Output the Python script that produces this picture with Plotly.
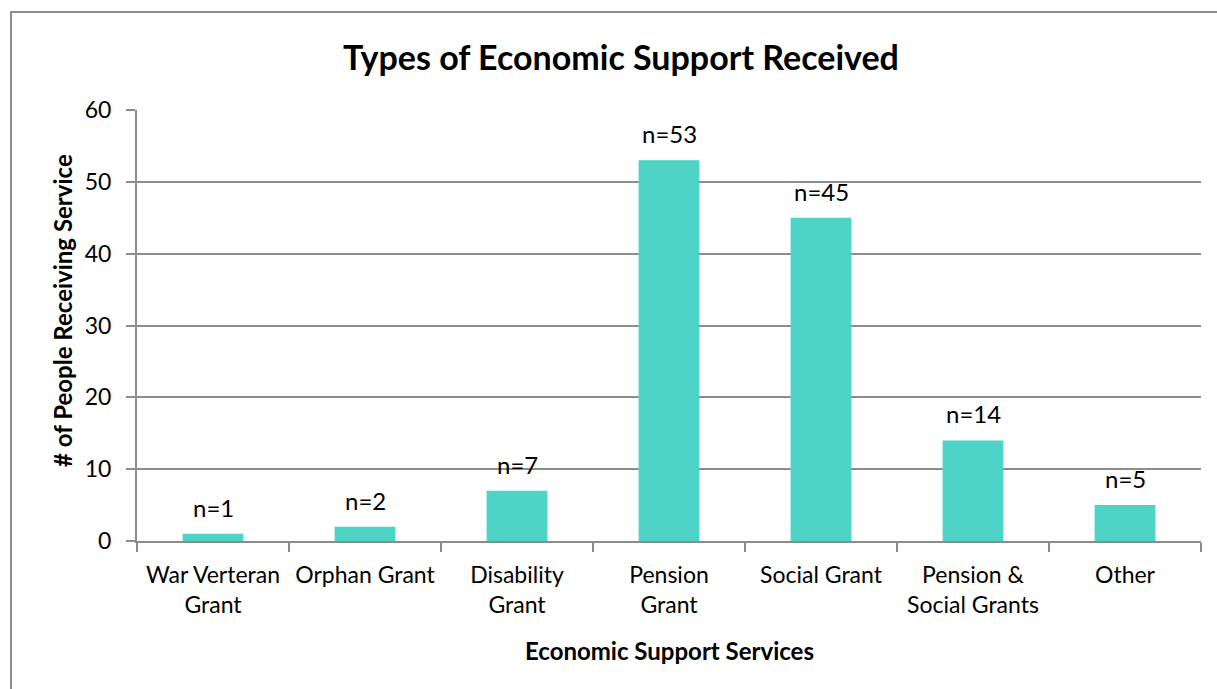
import plotly.graph_objects as go

categories = ["War Verteran<br>Grant", "Orphan Grant", "Disability<br>Grant", "Pension<br>Grant",
              "Social Grant", "Pension &<br>Social Grants", "Other"]
values = [1, 2, 7, 53, 45, 14, 5]
labels = ["n=1", "n=2", "n=7", "n=53", "n=45", "n=14", "n=5"]

FONT = "Lato"
GRAY = "#8c8c8c"

fig = go.Figure()
fig.add_trace(go.Bar(x=categories, y=values, marker=dict(color="#4dd4c6", line=dict(width=0)),
                     width=0.4, showlegend=False))

for c, v, t in zip(categories, values, labels):
    fig.add_annotation(x=c, y=v, text=t, showarrow=False, yanchor="bottom", yshift=10,
                       font=dict(family=FONT, size=24, color="#000"))

# axis titles
fig.add_annotation(xref="paper", yref="paper", x=0.5, y=(541 - 650) / 431, xanchor="center",
                   yanchor="middle", showarrow=False, text="<b>Economic Support Services</b>",
                   font=dict(family=FONT, size=24, color="#000"))
fig.add_annotation(xref="paper", yref="paper", x=(62 - 137) / 1064, y=(541 - 311) / 431,
                   xanchor="center", yanchor="middle", showarrow=False, textangle=-90,
                   text="<b># of People Receiving Service</b>",
                   font=dict(family=FONT, size=24, color="#000"))

fig.update_layout(
    width=1217, height=689,
    margin=dict(l=137, r=16, t=110, b=148, autoexpand=False),
    paper_bgcolor="white", plot_bgcolor="white",
    title=dict(text="<b>Types of Economic Support Received</b>", x=621 / 1217, xref="container",
               xanchor="center", y=1 - 58 / 689, yref="container", yanchor="middle",
               font=dict(family=FONT, size=34, color="#000")),
    xaxis=dict(tickfont=dict(family=FONT, size=23, color="#000"), tickangle=0, automargin=False,
               showline=True, linecolor=GRAY, linewidth=2, ticks="outside", tickson="boundaries",
               ticklen=9, tickcolor=GRAY, tickwidth=2, showgrid=False, ticklabelstandoff=12),
    yaxis=dict(tickfont=dict(family=FONT, size=23, color="#000"), automargin=False,
               range=[0, 60], dtick=10, showline=True, linecolor=GRAY, linewidth=2,
               ticks="outside", ticklen=9, tickcolor=GRAY, tickwidth=2, ticklabelstandoff=10,
               showgrid=True, gridcolor=GRAY, gridwidth=2, zeroline=False),
    shapes=[dict(type="rect", xref="paper", yref="paper",
                 x0=(11 - 137) / 1064, x1=(1230 - 137) / 1064,
                 y0=(541 - 700) / 431, y1=(541 - 12) / 431,
                 line=dict(color=GRAY, width=2), fillcolor="rgba(0,0,0,0)", layer="below")],
)

fig.write_html("out.html")
